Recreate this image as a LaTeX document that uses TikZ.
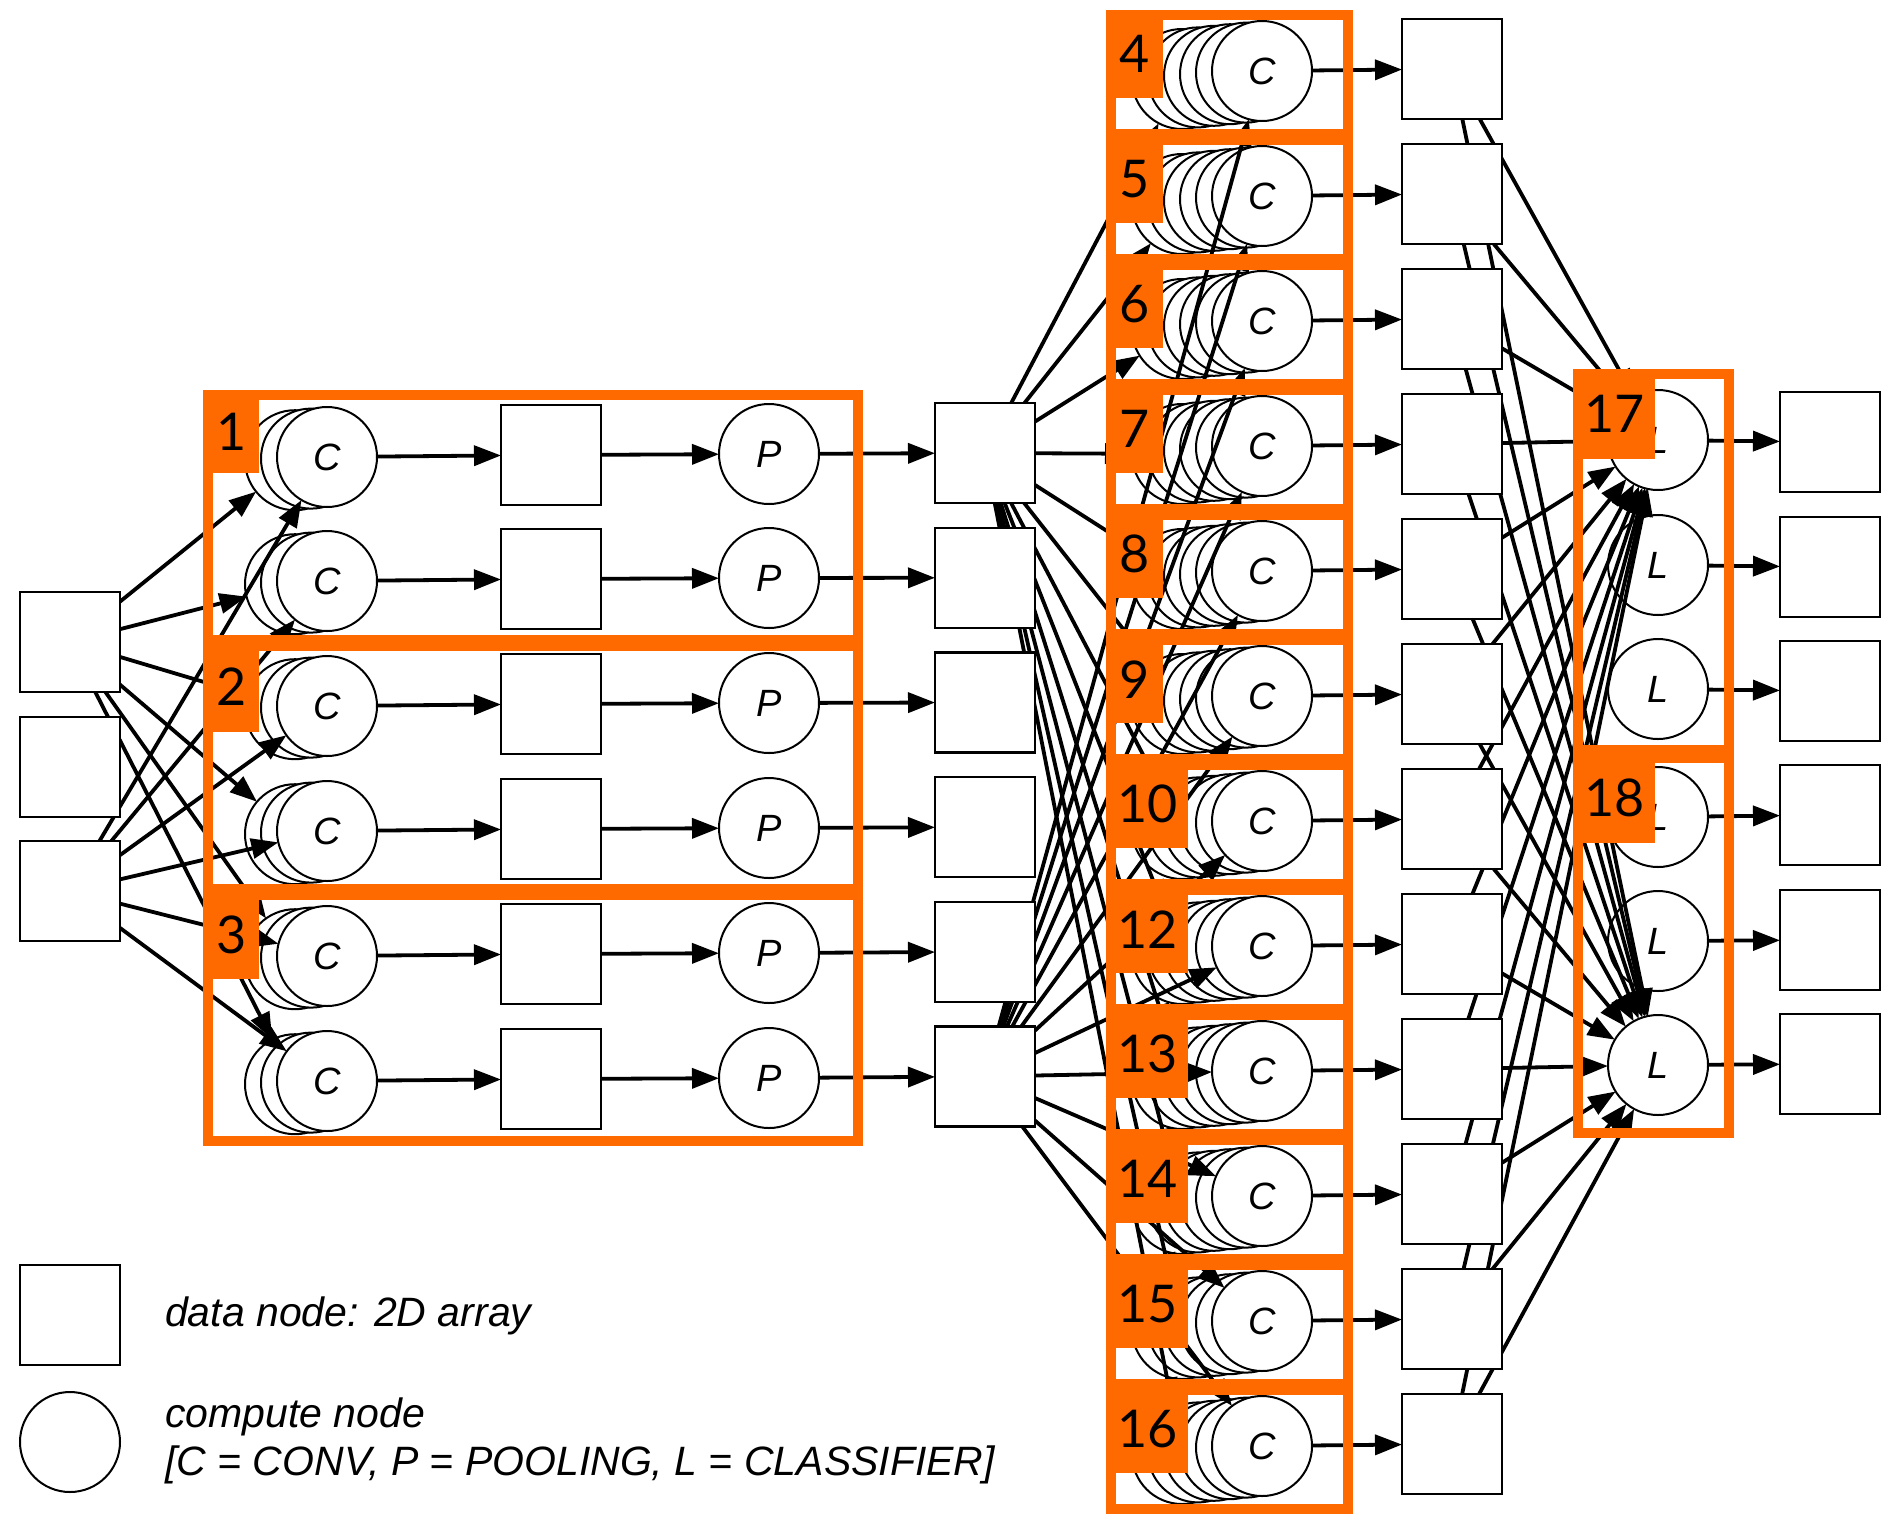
\documentclass[tikz,border=0pt]{standalone}
\usepackage{fontspec}
\setmainfont{Liberation Sans}
\newfontfamily\numfont{Lato}
\usetikzlibrary{arrows.meta}
\pgfdeclarelayer{bg}
\pgfdeclarelayer{edges}
\pgfdeclarelayer{fg}
\pgfsetlayers{bg,edges,main,fg}
\definecolor{orng}{RGB}{255,106,0}
\begin{document}
\begin{tikzpicture}[x=1pt,y=-1pt,
  dbox/.style={draw,line width=2.3pt,fill=white,minimum size=100pt,inner sep=0pt,outer sep=0pt},
  cnode/.style={circle,draw,line width=2pt,fill=white,minimum size=100pt,inner sep=0pt,outer sep=0pt,font=\fontsize{38}{40}\selectfont\itshape},
  conn/.style={line width=3.8pt,-{Triangle[length=27pt,width=20pt]}},
  grp/.style={draw=orng,line width=10pt},
  lab/.style={fill=orng,inner sep=0pt,anchor=north west,font=\numfont\fontsize{52}{52}\selectfont},
  legtext/.style={font=\fontsize{41}{45}\selectfont\itshape,anchor=base west,inner sep=0pt}
]
\useasboundingbox (0,0) rectangle (1884,1513);
\begin{pgfonlayer}{bg}
\fill[white] (0,0) rectangle (1884,1513);
% stage 1 conv stacks
\foreach \rr [count=\ci] in {457,581,706,831,956,1081}{
  \foreach \kk in {1,2}{
    \node[cnode] (a\ci k\kk) at ({327-16*(3-\kk)},{\rr+1.6*(3-\kk)}) {};
  }
  \node[cnode] (a\ci k3) at (327,\rr) {C};
}
% stage 2 conv stacks
\foreach \jj in {1,...,12}{
  \pgfmathsetmacro\rr{71+125*(\jj-1)}
  \foreach \kk in {1,...,5}{
    \node[cnode] (s\jj k\kk) at ({1262-16*(6-\kk)},{\rr+1.6*(6-\kk)}) {};
  }
  \node[cnode] (s\jj k6) at (1262,\rr) {C};
}
% classifier nodes
\foreach \yy [count=\li] in {440,565,689,817,941,1065}{
  \node[cnode] (L\li) at (1658,\yy) {L};
}
\end{pgfonlayer}

% data nodes and pooling nodes
\node[dbox] (I1) at (70,642) {};
\node[dbox] (I2) at (70,767) {};
\node[dbox] (I3) at (70,891) {};
\foreach \rr [count=\ci] in {457,581,706,831,956,1081}{
  \node[dbox] (M\ci) at (551,\rr-2) {};
  \node[cnode] (P\ci) at (769,\rr-3) {P};
  \node[dbox] (D\ci) at (985,{453+124.7*(\ci-1)}) {};
}
\foreach \jj in {1,...,12}{
  \node[dbox] (E\jj) at (1452,{69+125*(\jj-1)}) {};
}
\foreach \yy [count=\li] in {442,567,691,815,940,1064}{
  \node[dbox] (O\li) at (1830,\yy) {};
}

% connectors
\begin{pgfonlayer}{edges}
\foreach \ci in {1,...,6}{
  \draw[conn] (I1) -- (a\ci k1);
  \draw[conn] (I3) -- (a\ci k3);
  \draw[conn] (a\ci k3) -- (M\ci);
  \draw[conn] (M\ci) -- (P\ci);
  \draw[conn] (P\ci) -- (D\ci);
}
\foreach \jj in {1,...,12}{
  \draw[conn] (D1) -- (s\jj k1);
  \draw[conn] (D6) -- (s\jj k6);
  \draw[conn] (s\jj k6) -- (E\jj);
  \draw[conn] (E\jj) -- (L1);
  \draw[conn] (E\jj) -- (L6);
}
\foreach \li in {1,...,6}{
  \draw[conn] (L\li) -- (O\li);
}
\end{pgfonlayer}

% orange groups
\begin{pgfonlayer}{fg}
\draw[grp] (208,395) rectangle (858,640);
\draw[grp] (208,646) rectangle (858,889);
\draw[grp] (208,895) rectangle (858,1141);
\node[lab,minimum width=56pt,minimum height=83pt] (g1) at (203,390) {1};
\node[lab,minimum width=56pt,minimum height=91pt] (g2) at (203,641) {2};
\node[lab,minimum width=56pt,minimum height=89pt] (g3) at (203,890) {3};
\foreach \nn [count=\jj] in {4,5,6,7,8,9,10,12,13,14,15,16}{
  \pgfmathsetmacro\tp{15+125*(\jj-1)}
  \pgfmathsetmacro\ww{\nn<10 ? 57 : 82}
  \draw[grp] (1111,\tp) rectangle (1348,\tp+119);
  \node[lab,minimum width=\ww pt,minimum height=88pt] (g\nn) at (1106,\tp-5) {\nn};
}
\draw[grp] (1578,374) rectangle (1729,750);
\draw[grp] (1578,758) rectangle (1729,1133);
\node[lab,minimum width=82pt,minimum height=90pt] (g17) at (1573,369) {17};
\node[lab,minimum width=82pt,minimum height=90pt] (g18) at (1573,753) {18};
\end{pgfonlayer}

% legend
\node[dbox] (legbox) at (70,1315) {};
\node[cnode] (legcirc) at (70,1442) {};
\node[legtext] (legt1) at (165,1326) {data node: 2D array};
\node[legtext] (legt2) at (165,1427) {compute node};
\node[legtext] (legt3) at (165,1475) {[C = CONV, P = POOLING, L = CLASSIFIER]};
\end{tikzpicture}
\end{document}
